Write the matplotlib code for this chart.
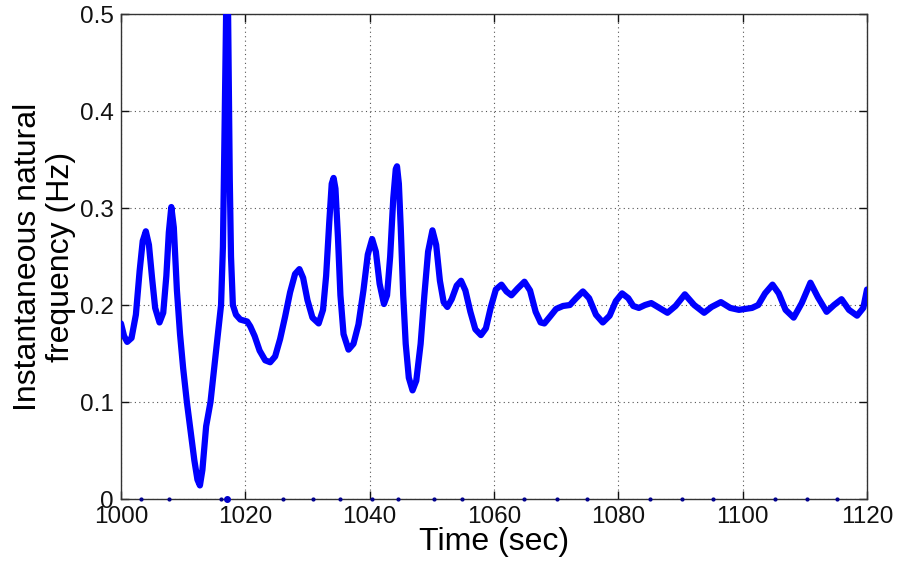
import matplotlib.pyplot as plt
from matplotlib.ticker import FuncFormatter

plt.rcParams['font.family'] = ['Liberation Sans', 'DejaVu Sans']

# values
time_sec = [
    1000.0, 1000.5, 1001.0, 1001.7, 1002.4, 1003.0, 1003.5, 1004.0, 1004.5, 1005.0,
    1005.5, 1006.2, 1006.8, 1007.3, 1007.7, 1008.1, 1008.5, 1009.0, 1009.5, 1010.0,
    1010.6, 1011.2, 1011.8, 1012.3, 1012.7, 1013.1, 1013.7, 1014.4, 1015.0, 1015.6,
    1016.1, 1016.4, 1016.6, 1016.8, 1017.0, 1017.1, 1017.2, 1017.35, 1017.5, 1017.7,
    1018.0, 1018.5, 1019.2, 1020.3, 1020.8, 1021.5, 1022.3, 1023.2, 1024.0, 1024.8,
    1025.6, 1026.4, 1027.2, 1028.0, 1028.7, 1029.3, 1030.0, 1030.8, 1031.8, 1032.5,
    1033.0, 1033.5, 1033.9, 1034.2, 1034.5, 1034.9, 1035.3, 1035.8, 1036.6, 1037.4,
    1038.2, 1039.0, 1039.7, 1040.4, 1041.0, 1041.6, 1042.3, 1042.8, 1043.3, 1043.8,
    1044.2, 1044.4, 1044.7, 1045.0, 1045.4, 1045.8, 1046.3, 1046.9, 1047.5, 1048.2,
    1048.8, 1049.4, 1050.1, 1050.7, 1051.3, 1051.9, 1052.5, 1053.2, 1054.0, 1054.7,
    1055.4, 1056.2, 1057.0, 1057.9, 1058.7, 1059.5, 1060.3, 1061.2, 1062.0, 1062.8,
    1063.8, 1064.9, 1065.8, 1066.7, 1067.5, 1068.1, 1069.0, 1070.0, 1071.1, 1072.2,
    1073.2, 1074.3, 1075.3, 1076.4, 1077.5, 1078.6, 1079.6, 1080.6, 1081.6, 1082.4,
    1083.3, 1084.3, 1085.3, 1086.6, 1087.9, 1089.2, 1090.7, 1092.2, 1093.8, 1095.0,
    1096.5, 1098.0, 1099.4, 1100.5, 1101.5, 1102.5, 1103.6, 1104.8, 1105.8, 1106.9,
    1108.2, 1109.5, 1110.9, 1112.1, 1113.5, 1114.7, 1115.9, 1117.1, 1118.4, 1119.4,
    1120.0,
]
freq_hz = [
    0.181, 0.168, 0.162, 0.166, 0.190, 0.235, 0.266, 0.276, 0.262, 0.228,
    0.197, 0.182, 0.192, 0.230, 0.275, 0.301, 0.280, 0.215, 0.170, 0.135,
    0.100, 0.070, 0.040, 0.020, 0.014, 0.030, 0.075, 0.100, 0.135, 0.170,
    0.200, 0.260, 0.350, 0.450, 0.540, 0.560, 0.520, 0.420, 0.330, 0.250,
    0.200, 0.190, 0.185, 0.183, 0.178, 0.168, 0.153, 0.143, 0.141, 0.147,
    0.165, 0.188, 0.213, 0.232, 0.237, 0.228, 0.205, 0.187, 0.181, 0.195,
    0.230, 0.285, 0.325, 0.331, 0.320, 0.270, 0.210, 0.170, 0.154, 0.160,
    0.180, 0.215, 0.252, 0.268, 0.255, 0.222, 0.201, 0.210, 0.250, 0.310,
    0.340, 0.343, 0.325, 0.280, 0.210, 0.160, 0.125, 0.112, 0.122, 0.160,
    0.210, 0.255, 0.277, 0.262, 0.225, 0.203, 0.198, 0.206, 0.220, 0.225,
    0.215, 0.193, 0.175, 0.169, 0.176, 0.198, 0.216, 0.221, 0.214, 0.210,
    0.217, 0.224, 0.215, 0.193, 0.182, 0.181, 0.188, 0.196, 0.199, 0.200,
    0.207, 0.214, 0.207, 0.190, 0.182, 0.189, 0.204, 0.212, 0.207, 0.199,
    0.197, 0.200, 0.202, 0.197, 0.192, 0.199, 0.211, 0.200, 0.192, 0.198,
    0.203, 0.197, 0.195, 0.196, 0.197, 0.200, 0.212, 0.221, 0.212, 0.195,
    0.187, 0.202, 0.223, 0.208, 0.193, 0.200, 0.206, 0.195, 0.189, 0.197,
    0.216,
]

# stray samples sitting on the zero line
zero_times = [1003.2, 1007.7, 1016.1, 1026.1, 1030.9, 1035.2, 1040.4, 1044.6,
              1050.3, 1054.8, 1064.9, 1070.1, 1075.0, 1085.1, 1090.2, 1095.3,
              1105.2, 1110.3, 1115.1]
zero_vals = [0.0] * len(zero_times)
big_zero_time = [1017.0]
big_zero_val = [0.0]

x_ticks = [1000, 1020, 1040, 1060, 1080, 1100, 1120]
y_ticks = [0, 0.1, 0.2, 0.3, 0.4, 0.5]

fig = plt.figure(figsize=(8.98, 5.67), dpi=100)
ax = fig.add_axes([0.1347, 0.1199, 0.8308, 0.8554])

ax.plot(time_sec, freq_hz, color=(0, 0, 1), linewidth=4.5, solid_joinstyle='round',
        solid_capstyle='round', zorder=3)
ax.plot(zero_times, zero_vals, linestyle='none', marker='.', markersize=4,
        color=(0, 0, 0.55), clip_on=False, zorder=4)
ax.plot(big_zero_time, big_zero_val, linestyle='none', marker='.', markersize=8,
        color=(0, 0, 0.8), clip_on=False, zorder=4)

ax.set_xlim(1000, 1120)
ax.set_ylim(0, 0.5)
ax.set_xticks(x_ticks)
ax.set_yticks(y_ticks)
ax.yaxis.set_major_formatter(FuncFormatter(lambda v, p: '0' if v == 0 else f'{v:g}'))

ax.grid(True, linestyle=(0, (1, 3)), color='#555555', linewidth=0.8)
ax.tick_params(direction='in', length=6, width=1, top=True, right=True,
               labelsize=17.5, pad=5, colors='#111111')
for s in ax.spines.values():
    s.set_color('#333333')
    s.set_linewidth(1)

ax.set_xlabel('Time (sec)', fontsize=23, labelpad=-1)
ax.set_ylabel('Instantaneous natural\nfrequency (Hz)', fontsize=23, labelpad=3,
              linespacing=1.15)

fig.savefig('out.png', dpi=100)
